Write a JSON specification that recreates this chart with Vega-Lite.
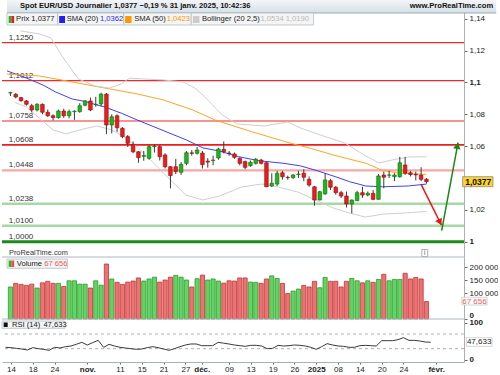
{
"$schema":"https://vega.github.io/schema/vega-lite/v6.json",
"padding":0,"spacing":0,"bounds":"flush",
"config":{"view":{"stroke":null},"font":"Liberation Sans",
"axis":{"grid":false,"labelFont":"Liberation Sans","labelFontSize":8,"labelColor":"#222","domainColor":"#a7b1ba","tickColor":"#666","tickSize":3,"labelPadding":2,"labelOverlap":false,"labelBound":false},
"axisX":{"domain":false,"ticks":false,"labels":false},
"axisY":{"domain":false,"ticks":false,"labels":false},
"text":{"font":"Liberation Sans","fontSize":7.5,"color":"#222"}},
"resolve":{"scale":{"x":"independent","y":"independent"}},
"datasets":{
"candles":[
{"i":0,"d":"2024-10-11","o":1.0934,"h":1.0942,"l":1.0915,"c":1.0936,"v":124000,"r":33.7},
{"i":1,"d":"2024-10-14","o":1.0926,"h":1.0934,"l":1.0900,"c":1.0909,"v":138000,"r":32.8},
{"i":2,"d":"2024-10-15","o":1.0905,"h":1.0910,"l":1.0880,"c":1.0885,"v":134000,"r":30.9},
{"i":3,"d":"2024-10-16","o":1.0884,"h":1.0890,"l":1.0855,"c":1.0863,"v":130000,"r":29.1},
{"i":4,"d":"2024-10-17","o":1.0854,"h":1.0866,"l":1.0812,"c":1.0827,"v":135000,"r":26.4},
{"i":5,"d":"2024-10-18","o":1.0827,"h":1.0870,"l":1.0818,"c":1.0863,"v":120000,"r":32.8},
{"i":6,"d":"2024-10-21","o":1.0863,"h":1.0868,"l":1.0800,"c":1.0813,"v":140000,"r":30.0},
{"i":7,"d":"2024-10-22","o":1.0813,"h":1.0830,"l":1.0784,"c":1.0791,"v":146000,"r":28.2},
{"i":8,"d":"2024-10-23","o":1.0791,"h":1.0800,"l":1.0762,"c":1.0779,"v":138000,"r":25.5},
{"i":9,"d":"2024-10-24","o":1.0779,"h":1.0830,"l":1.0773,"c":1.0821,"v":138000,"r":33.7},
{"i":10,"d":"2024-10-25","o":1.0821,"h":1.0835,"l":1.0778,"c":1.0791,"v":126000,"r":31.9},
{"i":11,"d":"2024-10-28","o":1.0791,"h":1.0830,"l":1.0775,"c":1.0817,"v":148000,"r":35.5},
{"i":12,"d":"2024-10-29","o":1.0817,"h":1.0825,"l":1.0765,"c":1.0820,"v":148000,"r":37.3},
{"i":13,"d":"2024-10-30","o":1.0817,"h":1.0870,"l":1.0810,"c":1.0854,"v":135000,"r":41.9},
{"i":14,"d":"2024-10-31","o":1.0857,"h":1.0890,"l":1.0850,"c":1.0884,"v":135000,"r":47.3},
{"i":15,"d":"2024-11-01","o":1.0884,"h":1.0905,"l":1.0820,"c":1.0827,"v":120000,"r":40.0},
{"i":16,"d":"2024-11-04","o":1.0860,"h":1.0910,"l":1.0848,"c":1.0863,"v":148000,"r":46.4},
{"i":17,"d":"2024-11-05","o":1.0865,"h":1.0936,"l":1.0850,"c":1.0927,"v":131000,"r":52.7},
{"i":18,"d":"2024-11-06","o":1.0927,"h":1.0935,"l":1.0676,"c":1.0733,"v":213000,"r":33.7},
{"i":19,"d":"2024-11-07","o":1.0733,"h":1.0800,"l":1.0680,"c":1.0785,"v":155000,"r":41.9},
{"i":20,"d":"2024-11-08","o":1.0791,"h":1.0800,"l":1.0690,"c":1.0716,"v":142000,"r":37.3},
{"i":21,"d":"2024-11-11","o":1.0712,"h":1.0720,"l":1.0650,"c":1.0660,"v":134000,"r":33.7},
{"i":22,"d":"2024-11-12","o":1.0660,"h":1.0670,"l":1.0595,"c":1.0618,"v":143000,"r":31.9},
{"i":23,"d":"2024-11-13","o":1.0612,"h":1.0630,"l":1.0555,"c":1.0565,"v":147000,"r":30.0},
{"i":24,"d":"2024-11-14","o":1.0565,"h":1.0570,"l":1.0496,"c":1.0528,"v":159000,"r":28.2},
{"i":25,"d":"2024-11-15","o":1.0536,"h":1.0570,"l":1.0508,"c":1.0541,"v":147000,"r":29.1},
{"i":26,"d":"2024-11-18","o":1.0524,"h":1.0607,"l":1.0515,"c":1.0597,"v":155000,"r":32.8},
{"i":27,"d":"2024-11-19","o":1.0597,"h":1.0610,"l":1.0560,"c":1.0600,"v":162000,"r":35.5},
{"i":28,"d":"2024-11-20","o":1.0597,"h":1.0608,"l":1.0510,"c":1.0534,"v":143000,"r":32.8},
{"i":29,"d":"2024-11-21","o":1.0545,"h":1.0555,"l":1.0460,"c":1.0471,"v":151000,"r":29.1},
{"i":30,"d":"2024-11-22","o":1.0471,"h":1.0475,"l":1.0335,"c":1.0415,"v":162000,"r":25.5},
{"i":31,"d":"2024-11-25","o":1.0471,"h":1.0520,"l":1.0425,"c":1.0440,"v":169000,"r":30.0},
{"i":32,"d":"2024-11-26","o":1.0436,"h":1.0500,"l":1.0420,"c":1.0486,"v":162000,"r":35.5},
{"i":33,"d":"2024-11-27","o":1.0492,"h":1.0570,"l":1.0480,"c":1.0559,"v":151000,"r":40.0},
{"i":34,"d":"2024-11-28","o":1.0558,"h":1.0575,"l":1.0540,"c":1.0555,"v":124000,"r":42.8},
{"i":35,"d":"2024-11-29","o":1.0555,"h":1.0595,"l":1.0548,"c":1.0576,"v":156000,"r":42.8},
{"i":36,"d":"2024-12-02","o":1.0557,"h":1.0570,"l":1.0460,"c":1.0484,"v":170000,"r":38.2},
{"i":37,"d":"2024-12-03","o":1.0506,"h":1.0525,"l":1.0465,"c":1.0500,"v":151000,"r":38.2},
{"i":38,"d":"2024-12-04","o":1.0510,"h":1.0540,"l":1.0480,"c":1.0513,"v":155000,"r":38.2},
{"i":39,"d":"2024-12-05","o":1.0526,"h":1.0590,"l":1.0515,"c":1.0582,"v":147000,"r":47.3},
{"i":40,"d":"2024-12-06","o":1.0580,"h":1.0630,"l":1.0555,"c":1.0565,"v":139000,"r":45.0},
{"i":41,"d":"2024-12-09","o":1.0557,"h":1.0570,"l":1.0540,"c":1.0554,"v":148000,"r":42.8},
{"i":42,"d":"2024-12-10","o":1.0551,"h":1.0560,"l":1.0520,"c":1.0530,"v":147000,"r":40.0},
{"i":43,"d":"2024-12-11","o":1.0524,"h":1.0530,"l":1.0480,"c":1.0492,"v":159000,"r":38.2},
{"i":44,"d":"2024-12-12","o":1.0503,"h":1.0510,"l":1.0455,"c":1.0467,"v":159000,"r":36.4},
{"i":45,"d":"2024-12-13","o":1.0477,"h":1.0510,"l":1.0470,"c":1.0499,"v":143000,"r":39.1},
{"i":46,"d":"2024-12-16","o":1.0492,"h":1.0525,"l":1.0485,"c":1.0518,"v":142000,"r":39.1},
{"i":47,"d":"2024-12-17","o":1.0513,"h":1.0520,"l":1.0485,"c":1.0492,"v":138000,"r":37.3},
{"i":48,"d":"2024-12-18","o":1.0496,"h":1.0500,"l":1.0343,"c":1.0345,"v":155000,"r":30.0},
{"i":49,"d":"2024-12-19","o":1.0350,"h":1.0430,"l":1.0343,"c":1.0367,"v":167000,"r":30.9},
{"i":50,"d":"2024-12-20","o":1.0362,"h":1.0445,"l":1.0350,"c":1.0430,"v":157000,"r":39.1},
{"i":51,"d":"2024-12-23","o":1.0433,"h":1.0445,"l":1.0390,"c":1.0408,"v":138000,"r":37.3},
{"i":52,"d":"2024-12-24","o":1.0404,"h":1.0415,"l":1.0390,"c":1.0402,"v":99000,"r":38.2},
{"i":53,"d":"2024-12-26","o":1.0402,"h":1.0425,"l":1.0395,"c":1.0419,"v":108000,"r":40.0},
{"i":54,"d":"2024-12-27","o":1.0422,"h":1.0445,"l":1.0400,"c":1.0425,"v":116000,"r":39.1},
{"i":55,"d":"2024-12-30","o":1.0430,"h":1.0455,"l":1.0380,"c":1.0405,"v":130000,"r":37.3},
{"i":56,"d":"2024-12-31","o":1.0392,"h":1.0410,"l":1.0345,"c":1.0356,"v":124000,"r":33.7},
{"i":57,"d":"2025-01-02","o":1.0345,"h":1.0350,"l":1.0226,"c":1.0262,"v":146000,"r":28.2},
{"i":58,"d":"2025-01-03","o":1.0262,"h":1.0320,"l":1.0260,"c":1.0314,"v":121000,"r":35.5},
{"i":59,"d":"2025-01-06","o":1.0300,"h":1.0430,"l":1.0295,"c":1.0388,"v":161000,"r":43.7},
{"i":60,"d":"2025-01-07","o":1.0383,"h":1.0395,"l":1.0325,"c":1.0342,"v":146000,"r":40.0},
{"i":61,"d":"2025-01-08","o":1.0342,"h":1.0350,"l":1.0295,"c":1.0308,"v":146000,"r":37.3},
{"i":62,"d":"2025-01-09","o":1.0308,"h":1.0320,"l":1.0275,"c":1.0287,"v":124000,"r":36.4},
{"i":63,"d":"2025-01-10","o":1.0287,"h":1.0315,"l":1.0215,"c":1.0237,"v":146000,"r":33.7},
{"i":64,"d":"2025-01-13","o":1.0237,"h":1.0265,"l":1.0178,"c":1.0262,"v":157000,"r":33.7},
{"i":65,"d":"2025-01-14","o":1.0258,"h":1.0320,"l":1.0255,"c":1.0308,"v":148000,"r":38.2},
{"i":66,"d":"2025-01-15","o":1.0308,"h":1.0345,"l":1.0275,"c":1.0293,"v":140000,"r":39.1},
{"i":67,"d":"2025-01-16","o":1.0293,"h":1.0315,"l":1.0285,"c":1.0304,"v":148000,"r":38.2},
{"i":68,"d":"2025-01-17","o":1.0304,"h":1.0325,"l":1.0260,"c":1.0266,"v":142000,"r":37.3},
{"i":69,"d":"2025-01-20","o":1.0266,"h":1.0425,"l":1.0265,"c":1.0413,"v":153000,"r":51.8},
{"i":70,"d":"2025-01-21","o":1.0419,"h":1.0440,"l":1.0335,"c":1.0405,"v":173000,"r":51.8},
{"i":71,"d":"2025-01-22","o":1.0418,"h":1.0445,"l":1.0400,"c":1.0419,"v":148000,"r":51.8},
{"i":72,"d":"2025-01-23","o":1.0408,"h":1.0430,"l":1.0380,"c":1.0419,"v":153000,"r":54.6},
{"i":73,"d":"2025-01-24","o":1.0408,"h":1.0533,"l":1.0402,"c":1.0496,"v":153000,"r":60.0},
{"i":74,"d":"2025-01-27","o":1.0482,"h":1.0533,"l":1.0420,"c":1.0430,"v":177000,"r":52.7},
{"i":75,"d":"2025-01-28","o":1.0433,"h":1.0445,"l":1.0410,"c":1.0422,"v":155000,"r":52.7},
{"i":76,"d":"2025-01-29","o":1.0423,"h":1.0440,"l":1.0385,"c":1.0420,"v":161000,"r":50.9},
{"i":77,"d":"2025-01-30","o":1.0419,"h":1.0468,"l":1.0380,"c":1.0392,"v":155000,"r":48.2},
{"i":78,"d":"2025-01-31","o":1.0392,"h":1.0400,"l":1.0365,"c":1.0377,"v":67656,"r":47.633}
],
"lines":[
{"s":"sma20","i":-0.64,"p":1.1073},{"s":"sma20","i":3.0,"p":1.1028},{"s":"sma20","i":6.1,"p":1.0984},{"s":"sma20","i":8.5,"p":1.0940},{"s":"sma20","i":11.6,"p":1.0896},{"s":"sma20","i":14.0,"p":1.0881},{"s":"sma20","i":15.9,"p":1.0862},{"s":"sma20","i":17.7,"p":1.0846},{"s":"sma20","i":20.8,"p":1.0807},{"s":"sma20","i":23.8,"p":1.0764},{"s":"sma20","i":26.9,"p":1.0722},{"s":"sma20","i":29.9,"p":1.0681},{"s":"sma20","i":33.0,"p":1.0639},{"s":"sma20","i":36.1,"p":1.0589},{"s":"sma20","i":39.1,"p":1.0570},{"s":"sma20","i":42.8,"p":1.0534},{"s":"sma20","i":46.5,"p":1.0509},{"s":"sma20","i":51.3,"p":1.0492},{"s":"sma20","i":54.4,"p":1.0476},{"s":"sma20","i":57.5,"p":1.0446},{"s":"sma20","i":60.5,"p":1.0413},{"s":"sma20","i":63.6,"p":1.0377},{"s":"sma20","i":66.6,"p":1.0350},{"s":"sma20","i":69.7,"p":1.0345},{"s":"sma20","i":74.6,"p":1.0350},{"s":"sma20","i":78,"p":1.0362},
{"s":"sma50","i":-0.64,"p":1.1053},{"s":"sma50","i":5.4,"p":1.1041},{"s":"sma50","i":11.65,"p":1.1003},{"s":"sma50","i":17.7,"p":1.0965},{"s":"sma50","i":23.8,"p":1.0928},{"s":"sma50","i":28.7,"p":1.0890},{"s":"sma50","i":34.2,"p":1.0827},{"s":"sma50","i":38.4,"p":1.0764},{"s":"sma50","i":45.2,"p":1.0691},{"s":"sma50","i":52.6,"p":1.0618},{"s":"sma50","i":56.2,"p":1.0587},{"s":"sma50","i":60.5,"p":1.0545},{"s":"sma50","i":66.7,"p":1.0492},{"s":"sma50","i":69.6,"p":1.0450},{"s":"sma50","i":72.8,"p":1.0430},{"s":"sma50","i":78,"p":1.0423},
{"s":"bbUp","i":1.9,"p":1.1324},{"s":"bbUp","i":5.4,"p":1.1305},{"s":"bbUp","i":7.6,"p":1.1280},{"s":"bbUp","i":9.8,"p":1.1160},{"s":"bbUp","i":12.75,"p":1.1022},{"s":"bbUp","i":15.9,"p":1.0978},{"s":"bbUp","i":18.6,"p":1.0965},{"s":"bbUp","i":20.8,"p":1.0991},{"s":"bbUp","i":22.3,"p":1.1028},{"s":"bbUp","i":25.0,"p":1.1022},{"s":"bbUp","i":28.7,"p":1.1016},{"s":"bbUp","i":32.4,"p":1.1003},{"s":"bbUp","i":34.6,"p":1.0965},{"s":"bbUp","i":36.1,"p":1.0921},{"s":"bbUp","i":37.9,"p":1.0859},{"s":"bbUp","i":39.7,"p":1.0796},{"s":"bbUp","i":42.5,"p":1.0739},{"s":"bbUp","i":47.6,"p":1.0727},{"s":"bbUp","i":52.0,"p":1.0752},{"s":"bbUp","i":54.4,"p":1.0714},{"s":"bbUp","i":58.1,"p":1.0670},{"s":"bbUp","i":62.7,"p":1.0620},{"s":"bbUp","i":66.3,"p":1.0545},{"s":"bbUp","i":69.1,"p":1.0494},{"s":"bbUp","i":71.5,"p":1.0513},{"s":"bbUp","i":74.6,"p":1.0532},{"s":"bbUp","i":78,"p":1.0534},
{"s":"bbLo","i":0.8,"p":1.0875},{"s":"bbLo","i":3.0,"p":1.0846},{"s":"bbLo","i":5.4,"p":1.0777},{"s":"bbLo","i":8.0,"p":1.0702},{"s":"bbLo","i":10.4,"p":1.0677},{"s":"bbLo","i":13.7,"p":1.0708},{"s":"bbLo","i":16.2,"p":1.0727},{"s":"bbLo","i":19.0,"p":1.0702},{"s":"bbLo","i":21.4,"p":1.0658},{"s":"bbLo","i":23.8,"p":1.0595},{"s":"bbLo","i":26.3,"p":1.0513},{"s":"bbLo","i":30.0,"p":1.0388},{"s":"bbLo","i":32.9,"p":1.0293},{"s":"bbLo","i":36.1,"p":1.0262},{"s":"bbLo","i":39.2,"p":1.0287},{"s":"bbLo","i":43.4,"p":1.0344},{"s":"bbLo","i":47.1,"p":1.0362},{"s":"bbLo","i":50.2,"p":1.0344},{"s":"bbLo","i":53.9,"p":1.0312},{"s":"bbLo","i":57.2,"p":1.0262},{"s":"bbLo","i":60.5,"p":1.0212},{"s":"bbLo","i":63.6,"p":1.0180},{"s":"bbLo","i":66.5,"p":1.0155},{"s":"bbLo","i":70.0,"p":1.0174},{"s":"bbLo","i":73.7,"p":1.0180},{"s":"bbLo","i":78,"p":1.0190}
],
"levels":[
{"p":1.1250,"lab":"1,1250","t":"R"},{"p":1.1012,"lab":"1,1012","t":"R"},{"p":1.0758,"lab":"1,0758","t":"R"},{"p":1.0608,"lab":"1,0608","t":"R3"},{"p":1.0448,"lab":"1,0448","t":"Rl"},{"p":1.0238,"lab":"1,0238","t":"Sl"},{"p":1.0100,"lab":"1,0100","t":"Sl"},{"p":1.0000,"lab":"1,0000","t":"S"}
],
"arrows":[
{"a":"down","i":77.0,"p":1.03606},{"a":"down","i":80.8,"p":1.0105},{"a":"up","i":80.85,"p":1.00692},{"a":"up","i":83.92,"p":1.06218}
],
"heads":[{"a":"down","i":80.54,"p":1.0122},{"a":"up","i":83.8,"p":1.0603}],
"rsiLevels":[{"r":70},{"r":30}]
},
"vconcat":[
{"width":462,"height":257,
"layer":[
{"data":{"name":"levels"},"mark":{"type":"rule"},
"encoding":{"y":{"field":"p","type":"quantitative","scale":{"domain":[0.9904,1.1518],"nice":false,"zero":false},"title":null},
"stroke":{"field":"t","type":"nominal","scale":{"domain":["R","R3","Rl","Sl","S"],"range":["#ec2a2a","#ee1c1c","#f6a8a8","#a6d9a6","#1b8a1b"]},"legend":null},
"strokeWidth":{"field":"t","type":"ordinal","scale":{"domain":["R","R3","Rl","Sl","S"],"range":[1.2,3,2,2,2.2]},"legend":null}}},
{"data":{"name":"levels"},"mark":{"type":"text","align":"left","baseline":"bottom","dy":-1,"fontSize":8,"color":"#333"},
"encoding":{"x":{"datum":-0.3,"type":"quantitative","scale":{"domain":[-0.64,84.1],"nice":false,"zero":false}},
"y":{"field":"p","type":"quantitative","scale":{"domain":[0.9904,1.1518],"nice":false,"zero":false},"title":null},"text":{"field":"lab"}}},
{"data":{"name":"lines"},"mark":{"type":"line","strokeWidth":1},
"encoding":{"x":{"field":"i","type":"quantitative","scale":{"domain":[-0.64,84.1],"nice":false,"zero":false},"title":null},
"y":{"field":"p","type":"quantitative","scale":{"domain":[0.9904,1.1518],"nice":false,"zero":false},"title":null},
"color":{"field":"s","type":"nominal","scale":{"domain":["bbUp","bbLo","sma50","sma20"],"range":["#cfcfcf","#cfcfcf","#ffa424","#3f3ff5"]},"legend":null}}},
{"data":{"name":"candles"},"mark":{"type":"rule","color":"#3a3a3a","strokeWidth":1},
"encoding":{"x":{"field":"i","type":"quantitative","scale":{"domain":[-0.64,84.1],"nice":false,"zero":false},"title":null},
"y":{"field":"l","type":"quantitative","scale":{"domain":[0.9904,1.1518],"nice":false,"zero":false},"title":null},"y2":{"field":"h"}}},
{"data":{"name":"candles"},"mark":{"type":"bar","width":3.6,"strokeWidth":0.6},
"encoding":{"x":{"field":"i","type":"quantitative","scale":{"domain":[-0.64,84.1],"nice":false,"zero":false},"title":null},
"y":{"field":"o","type":"quantitative","scale":{"domain":[0.9904,1.1518],"nice":false,"zero":false},"title":null,
"axis":{"orient":"right","domain":true,"ticks":true,"labels":true,"tickCount":20,"values":[1,1.02,1.06,1.08,1.1,1.12,1.14],"labelExpr":"replace(format(datum.value,'.2~f'),'.',',')","labelFontWeight":{"condition":{"test":"datum.value==1||datum.value==1.1","value":"bold"},"value":"normal"},"labelOverlap":false,"labelFlush":false,"title":null,"grid":false}},
"y2":{"field":"c"},
"fill":{"condition":{"test":"datum.c>=datum.o","value":"#1fb51f"},"value":"#ee1d1d"},
"stroke":{"condition":{"test":"datum.c>=datum.o","value":"#0d6e0d"},"value":"#8a0b0b"}}},
{"data":{"name":"arrows"},"mark":{"type":"line","strokeWidth":1.5},
"encoding":{"x":{"field":"i","type":"quantitative","scale":{"domain":[-0.64,84.1],"nice":false,"zero":false},"title":null},
"y":{"field":"p","type":"quantitative","scale":{"domain":[0.9904,1.1518],"nice":false,"zero":false},"title":null},
"detail":{"field":"a"},"color":{"condition":{"test":"datum.a=='down'","value":"#ee1515"},"value":"#168a16"}}},
{"data":{"name":"heads"},"mark":{"type":"point","shape":"triangle-up","filled":true,"size":55,"opacity":1},
"encoding":{"x":{"field":"i","type":"quantitative","scale":{"domain":[-0.64,84.1],"nice":false,"zero":false},"title":null},
"y":{"field":"p","type":"quantitative","scale":{"domain":[0.9904,1.1518],"nice":false,"zero":false},"title":null},
"angle":{"condition":{"test":"datum.a=='down'","value":153},"value":11},
"color":{"condition":{"test":"datum.a=='down'","value":"#ee1515"},"value":"#168a16"}}},
{"data":{"values":[{}]},"mark":{"type":"rect","fill":{"x1":0,"y1":0,"x2":0,"y2":1,"gradient":"linear","stops":[{"offset":0,"color":"#f3f6f8"},{"offset":1,"color":"#d5dfe7"}]}},
"encoding":{"x":{"datum":-0.64,"type":"quantitative","scale":{"domain":[-0.64,84.1],"nice":false,"zero":false}},"x2":{"datum":91.07},
"y":{"datum":1.1518,"type":"quantitative","scale":{"domain":[0.9904,1.1518],"nice":false,"zero":false}},"y2":{"datum":1.14364}}},
{"data":{"values":[{}]},"mark":{"type":"rule","color":"#9aabb8","strokeWidth":1},
"encoding":{"x":{"datum":-0.64,"type":"quantitative","scale":{"domain":[-0.64,84.1],"nice":false,"zero":false}},"x2":{"datum":91.07},
"y":{"datum":1.14364,"type":"quantitative","scale":{"domain":[0.9904,1.1518],"nice":false,"zero":false}}}},
{"data":{"values":[{}]},"mark":{"type":"text","align":"left","baseline":"middle","fontWeight":"bold","fontSize":7.6,"color":"#111"},
"encoding":{"x":{"datum":1.8,"type":"quantitative","scale":{"domain":[-0.64,84.1],"nice":false,"zero":false}},
"y":{"datum":1.14772,"type":"quantitative","scale":{"domain":[0.9904,1.1518],"nice":false,"zero":false}},
"text":{"value":"Spot EUR/USD Journalier 1,0377 −0,19 % 31 janv. 2025, 10:42:36"}}},
{"data":{"values":[{}]},"mark":{"type":"text","align":"right","baseline":"middle","fontWeight":"bold","fontSize":7.6,"color":"#111"},
"encoding":{"x":{"datum":90.52,"type":"quantitative","scale":{"domain":[-0.64,84.1],"nice":false,"zero":false}},
"y":{"datum":1.14772,"type":"quantitative","scale":{"domain":[0.9904,1.1518],"nice":false,"zero":false}},
"text":{"value":"www.ProRealTime.com"}}},
{"data":{"values":[{}]},"mark":{"type":"rect","fill":"#f4f4f4","stroke":"#b4bfc7","strokeWidth":0.8},
"encoding":{"x":{"datum":-0.64,"type":"quantitative","scale":{"domain":[-0.64,84.1],"nice":false,"zero":false}},"x2":{"datum":8.84},
"y":{"datum":1.14364,"type":"quantitative","scale":{"domain":[0.9904,1.1518],"nice":false,"zero":false}},"y2":{"datum":1.1361}}},
{"data":{"values":[{}]},"mark":{"type":"rect","fill":"#f4f4f4","stroke":"#b4bfc7","strokeWidth":0.8},
"encoding":{"x":{"datum":8.84,"type":"quantitative","scale":{"domain":[-0.64,84.1],"nice":false,"zero":false}},"x2":{"datum":21.24},
"y":{"datum":1.14364,"type":"quantitative","scale":{"domain":[0.9904,1.1518],"nice":false,"zero":false}},"y2":{"datum":1.1361}}},
{"data":{"values":[{}]},"mark":{"type":"rect","fill":"#f4f4f4","stroke":"#b4bfc7","strokeWidth":0.8},
"encoding":{"x":{"datum":21.24,"type":"quantitative","scale":{"domain":[-0.64,84.1],"nice":false,"zero":false}},"x2":{"datum":33.9},
"y":{"datum":1.14364,"type":"quantitative","scale":{"domain":[0.9904,1.1518],"nice":false,"zero":false}},"y2":{"datum":1.1361}}},
{"data":{"values":[{}]},"mark":{"type":"rect","fill":"#f4f4f4","stroke":"#b4bfc7","strokeWidth":0.8},
"encoding":{"x":{"datum":33.9,"type":"quantitative","scale":{"domain":[-0.64,84.1],"nice":false,"zero":false}},"x2":{"datum":56.83},
"y":{"datum":1.14364,"type":"quantitative","scale":{"domain":[0.9904,1.1518],"nice":false,"zero":false}},"y2":{"datum":1.1361}}},
{"data":{"values":[{}]},"mark":{"type":"rect","fill":"#22b822"},
"encoding":{"x":{"datum":-0.33,"type":"quantitative","scale":{"domain":[-0.64,84.1],"nice":false,"zero":false}},"x2":{"datum":0.185},
"y":{"datum":1.14175,"type":"quantitative","scale":{"domain":[0.9904,1.1518],"nice":false,"zero":false}},"y2":{"datum":1.13736}}},
{"data":{"values":[{}]},"mark":{"type":"rect","fill":"#e52020"},
"encoding":{"x":{"datum":0.185,"type":"quantitative","scale":{"domain":[-0.64,84.1],"nice":false,"zero":false}},"x2":{"datum":0.7},
"y":{"datum":1.14175,"type":"quantitative","scale":{"domain":[0.9904,1.1518],"nice":false,"zero":false}},"y2":{"datum":1.13736}}},
{"data":{"values":[{}]},"mark":{"type":"rect","fill":"#2020f0"},
"encoding":{"x":{"datum":9.14,"type":"quantitative","scale":{"domain":[-0.64,84.1],"nice":false,"zero":false}},"x2":{"datum":10.24},
"y":{"datum":1.14175,"type":"quantitative","scale":{"domain":[0.9904,1.1518],"nice":false,"zero":false}},"y2":{"datum":1.13736}}},
{"data":{"values":[{}]},"mark":{"type":"rect","fill":"#ff9900"},
"encoding":{"x":{"datum":21.5,"type":"quantitative","scale":{"domain":[-0.64,84.1],"nice":false,"zero":false}},"x2":{"datum":22.71},
"y":{"datum":1.14175,"type":"quantitative","scale":{"domain":[0.9904,1.1518],"nice":false,"zero":false}},"y2":{"datum":1.13736}}},
{"data":{"values":[{}]},"mark":{"type":"rect","fill":"#cccccc"},
"encoding":{"x":{"datum":34.21,"type":"quantitative","scale":{"domain":[-0.64,84.1],"nice":false,"zero":false}},"x2":{"datum":35.44},
"y":{"datum":1.14175,"type":"quantitative","scale":{"domain":[0.9904,1.1518],"nice":false,"zero":false}},"y2":{"datum":1.13736}}},
{"data":{"values":[{}]},"mark":{"type":"text","align":"left","baseline":"middle","fontSize":7.6,"color":"#222"},
"encoding":{"x":{"datum":1.07,"type":"quantitative","scale":{"domain":[-0.64,84.1],"nice":false,"zero":false}},
"y":{"datum":1.13987,"type":"quantitative","scale":{"domain":[0.9904,1.1518],"nice":false,"zero":false}},"text":{"value":"Prix 1,0377"}}},
{"data":{"values":[{}]},"mark":{"type":"text","align":"left","baseline":"middle","fontSize":7.6,"color":"#222"},
"encoding":{"x":{"datum":10.55,"type":"quantitative","scale":{"domain":[-0.64,84.1],"nice":false,"zero":false}},
"y":{"datum":1.13987,"type":"quantitative","scale":{"domain":[0.9904,1.1518],"nice":false,"zero":false}},"text":{"value":"SMA (20)"}}},
{"data":{"values":[{}]},"mark":{"type":"text","align":"left","baseline":"middle","fontSize":7.6,"color":"#2a2aff"},
"encoding":{"x":{"datum":16.78,"type":"quantitative","scale":{"domain":[-0.64,84.1],"nice":false,"zero":false}},
"y":{"datum":1.13987,"type":"quantitative","scale":{"domain":[0.9904,1.1518],"nice":false,"zero":false}},"text":{"value":"1,0362"}}},
{"data":{"values":[{}]},"mark":{"type":"text","align":"left","baseline":"middle","fontSize":7.6,"color":"#222"},
"encoding":{"x":{"datum":23.2,"type":"quantitative","scale":{"domain":[-0.64,84.1],"nice":false,"zero":false}},
"y":{"datum":1.13987,"type":"quantitative","scale":{"domain":[0.9904,1.1518],"nice":false,"zero":false}},"text":{"value":"SMA (50)"}}},
{"data":{"values":[{}]},"mark":{"type":"text","align":"left","baseline":"middle","fontSize":7.6,"color":"#ff9400"},
"encoding":{"x":{"datum":29.31,"type":"quantitative","scale":{"domain":[-0.64,84.1],"nice":false,"zero":false}},
"y":{"datum":1.13987,"type":"quantitative","scale":{"domain":[0.9904,1.1518],"nice":false,"zero":false}},"text":{"value":"1,0423"}}},
{"data":{"values":[{}]},"mark":{"type":"text","align":"left","baseline":"middle","fontSize":7.6,"color":"#222"},
"encoding":{"x":{"datum":35.92,"type":"quantitative","scale":{"domain":[-0.64,84.1],"nice":false,"zero":false}},
"y":{"datum":1.13987,"type":"quantitative","scale":{"domain":[0.9904,1.1518],"nice":false,"zero":false}},"text":{"value":"Bollinger (20 2,5)"}}},
{"data":{"values":[{}]},"mark":{"type":"text","align":"left","baseline":"middle","fontSize":7.6,"color":"#b8b8b8"},
"encoding":{"x":{"datum":46.87,"type":"quantitative","scale":{"domain":[-0.64,84.1],"nice":false,"zero":false}},
"y":{"datum":1.13987,"type":"quantitative","scale":{"domain":[0.9904,1.1518],"nice":false,"zero":false}},"text":{"value":"1,0534 1,0190"}}},
{"data":{"values":[{}]},"mark":{"type":"text","align":"left","baseline":"middle","fontSize":7.4,"color":"#333"},
"encoding":{"x":{"datum":-0.27,"type":"quantitative","scale":{"domain":[-0.64,84.1],"nice":false,"zero":false}},
"y":{"datum":0.99272,"type":"quantitative","scale":{"domain":[0.9904,1.1518],"nice":false,"zero":false}},"text":{"value":"ProRealTime.com"}}},
{"data":{"values":[{}]},"mark":{"type":"rect","fill":"#ffffff","stroke":"#9a9a9a","strokeWidth":0.8},
"encoding":{"x":{"datum":77.13,"type":"quantitative","scale":{"domain":[-0.64,84.1],"nice":false,"zero":false}},"x2":{"datum":78.23},
"y":{"datum":0.99511,"type":"quantitative","scale":{"domain":[0.9904,1.1518],"nice":false,"zero":false}},"y2":{"datum":0.99071}}},
{"data":{"values":[{}]},"mark":{"type":"text","align":"center","baseline":"middle","fontSize":6.5,"color":"#555"},
"encoding":{"x":{"datum":77.68,"type":"quantitative","scale":{"domain":[-0.64,84.1],"nice":false,"zero":false}},
"y":{"datum":0.9929,"type":"quantitative","scale":{"domain":[0.9904,1.1518],"nice":false,"zero":false}},"text":{"value":"i"}}},
{"data":{"values":[{}]},"mark":{"type":"rect","fill":"#ffd42a","stroke":"#8c8c8c","strokeWidth":0.8},
"encoding":{"x":{"datum":84.78,"type":"quantitative","scale":{"domain":[-0.64,84.1],"nice":false,"zero":false}},"x2":{"datum":90.47},
"y":{"datum":1.04083,"type":"quantitative","scale":{"domain":[0.9904,1.1518],"nice":false,"zero":false}},"y2":{"datum":1.03455}}},
{"data":{"values":[{}]},"mark":{"type":"text","align":"center","baseline":"middle","fontSize":8.5,"fontWeight":"bold","color":"#111"},
"encoding":{"x":{"datum":87.7,"type":"quantitative","scale":{"domain":[-0.64,84.1],"nice":false,"zero":false}},
"y":{"datum":1.0377,"type":"quantitative","scale":{"domain":[0.9904,1.1518],"nice":false,"zero":false}},"text":{"value":"1,0377"}}}
]},
{"width":462,"height":62,
"layer":[
{"data":{"values":[{}]},"mark":{"type":"rule","color":"#aeb8c0","strokeWidth":1},
"encoding":{"y":{"datum":240000,"type":"quantitative","scale":{"domain":[0,240000],"nice":false}}}},
{"data":{"name":"candles"},"transform":[{"window":[{"op":"lag","field":"c","as":"pc"}],"sort":[{"field":"i","order":"ascending"}]}],
"mark":{"type":"bar","width":4.2,"strokeWidth":0.7},
"encoding":{"x":{"field":"i","type":"quantitative","scale":{"domain":[-0.64,84.1],"nice":false,"zero":false},"title":null},
"y":{"field":"v","type":"quantitative","scale":{"domain":[0,240000],"nice":false},"title":null,
"axis":{"orient":"right","domain":true,"ticks":true,"labels":true,"tickCount":20,"values":[0,100000,150000,200000],"labelExpr":"datum.value==0?'0':format(datum.value/1000,'d')+' 000'","labelFontWeight":{"condition":{"test":"datum.value==0","value":"bold"},"value":"normal"},"labelFlush":true,"labelOverlap":false,"title":null,"grid":false}},
"fill":{"condition":{"test":"datum.pc==null||datum.c>=datum.pc","value":"#62d462"},"value":"#ee7272"},
"stroke":{"condition":{"test":"datum.pc==null||datum.c>=datum.pc","value":"#209020"},"value":"#b32a2a"}}},
{"data":{"values":[{}]},"mark":{"type":"rect","fill":"#f4f4f4","stroke":"#b4bfc7","strokeWidth":0.8},
"encoding":{"x":{"datum":-0.64,"type":"quantitative","scale":{"domain":[-0.64,84.1],"nice":false,"zero":false}},"x2":{"datum":10.68},
"y":{"datum":232258,"type":"quantitative","scale":{"domain":[0,240000],"nice":false}},"y2":{"datum":196258}}},
{"data":{"values":[{}]},"mark":{"type":"rect","fill":"#22b822"},
"encoding":{"x":{"datum":-0.33,"type":"quantitative","scale":{"domain":[-0.64,84.1],"nice":false,"zero":false}},"x2":{"datum":0.185},
"y":{"datum":226452,"type":"quantitative","scale":{"domain":[0,240000],"nice":false}},"y2":{"datum":201290}}},
{"data":{"values":[{}]},"mark":{"type":"rect","fill":"#e85050"},
"encoding":{"x":{"datum":0.185,"type":"quantitative","scale":{"domain":[-0.64,84.1],"nice":false,"zero":false}},"x2":{"datum":0.7},
"y":{"datum":226452,"type":"quantitative","scale":{"domain":[0,240000],"nice":false}},"y2":{"datum":201290}}},
{"data":{"values":[{}]},"mark":{"type":"text","align":"left","baseline":"middle","fontSize":7.6,"color":"#222"},
"encoding":{"x":{"datum":1.19,"type":"quantitative","scale":{"domain":[-0.64,84.1],"nice":false,"zero":false}},
"y":{"datum":214065,"type":"quantitative","scale":{"domain":[0,240000],"nice":false}},"text":{"value":"Volume"}}},
{"data":{"values":[{}]},"mark":{"type":"text","align":"left","baseline":"middle","fontSize":7.6,"color":"#e05a5a"},
"encoding":{"x":{"datum":6.35,"type":"quantitative","scale":{"domain":[-0.64,84.1],"nice":false,"zero":false}},
"y":{"datum":214065,"type":"quantitative","scale":{"domain":[0,240000],"nice":false}},"text":{"value":"67 656"}}},
{"data":{"values":[{}]},"mark":{"type":"rect","fill":"#ffffff","stroke":"#c9c9c9","strokeWidth":0.8},
"encoding":{"x":{"datum":84.65,"type":"quantitative","scale":{"domain":[-0.64,84.1],"nice":false,"zero":false}},"x2":{"datum":89.36},
"y":{"datum":84000,"type":"quantitative","scale":{"domain":[0,240000],"nice":false}},"y2":{"datum":54194}}},
{"data":{"values":[{}]},"mark":{"type":"text","align":"center","baseline":"middle","fontSize":8,"color":"#e06060"},
"encoding":{"x":{"datum":87.0,"type":"quantitative","scale":{"domain":[-0.64,84.1],"nice":false,"zero":false}},
"y":{"datum":67656,"type":"quantitative","scale":{"domain":[0,240000],"nice":false}},"text":{"value":"67 656"}}}
]},
{"width":462,"height":43,
"layer":[
{"data":{"values":[{}]},"mark":{"type":"rule","color":"#aeb8c0","strokeWidth":1},
"encoding":{"y":{"datum":110.9,"type":"quantitative","scale":{"domain":[-6.3,110.9],"nice":false,"zero":false}}}},
{"data":{"name":"rsiLevels"},"mark":{"type":"rule","color":"#9a9a9a","strokeWidth":0.8,"strokeDash":[3,3]},
"encoding":{"y":{"field":"r","type":"quantitative","scale":{"domain":[-6.3,110.9],"nice":false,"zero":false},"title":null}}},
{"data":{"name":"candles"},"mark":{"type":"line","color":"#3a3a3a","strokeWidth":1},
"encoding":{"x":{"field":"i","type":"quantitative","scale":{"domain":[-0.64,84.1],"nice":false,"zero":false},"title":null,
"axis":{"orient":"bottom","domain":true,"ticks":true,"tickSize":2,"labels":true,"labelPadding":1,"tickCount":40,"values":[1,5,9,15,21,25,29,33,36,41,45,49,53,57,61,65,69,73,79],
"labelExpr":"['14','18','24','nov.','11','15','21','27','déc.','09','13','19','26','2025','08','14','20','24','févr.'][indexof([1,5,9,15,21,25,29,33,36,41,45,49,53,57,61,65,69,73,79],datum.value)]",
"labelFontWeight":{"condition":{"test":"indexof([15,36,57,79],datum.value)>=0","value":"bold"},"value":"normal"},"labelOverlap":false,"labelFlush":false,"title":null,"grid":false}},
"y":{"field":"r","type":"quantitative","scale":{"domain":[-6.3,110.9],"nice":false,"zero":false},"title":null,
"axis":{"orient":"right","domain":true,"ticks":true,"labels":true,"tickCount":10,"values":[0,100],"labelFontWeight":"bold","labelOverlap":false,"title":null,"grid":false}}}},
{"data":{"values":[{}]},"mark":{"type":"rect","fill":"#f4f4f4","stroke":"#b4bfc7","strokeWidth":0.8},
"encoding":{"x":{"datum":-0.64,"type":"quantitative","scale":{"domain":[-0.64,84.1],"nice":false,"zero":false}},"x2":{"datum":10.9},
"y":{"datum":105.45,"type":"quantitative","scale":{"domain":[-6.3,110.9],"nice":false,"zero":false}},"y2":{"datum":85.55}}},
{"data":{"values":[{}]},"mark":{"type":"rect","fill":"#111111"},
"encoding":{"x":{"datum":-0.33,"type":"quantitative","scale":{"domain":[-0.64,84.1],"nice":false,"zero":false}},"x2":{"datum":0.405},
"y":{"datum":101.36,"type":"quantitative","scale":{"domain":[-6.3,110.9],"nice":false,"zero":false}},"y2":{"datum":89.1}}},
{"data":{"values":[{}]},"mark":{"type":"text","align":"left","baseline":"middle","fontSize":7.6,"color":"#222"},
"encoding":{"x":{"datum":1.19,"type":"quantitative","scale":{"domain":[-0.64,84.1],"nice":false,"zero":false}},
"y":{"datum":95.36,"type":"quantitative","scale":{"domain":[-6.3,110.9],"nice":false,"zero":false}},"text":{"value":"RSI (14)"}}},
{"data":{"values":[{}]},"mark":{"type":"text","align":"left","baseline":"middle","fontSize":7.6,"color":"#222"},
"encoding":{"x":{"datum":6.95,"type":"quantitative","scale":{"domain":[-0.64,84.1],"nice":false,"zero":false}},
"y":{"datum":95.36,"type":"quantitative","scale":{"domain":[-6.3,110.9],"nice":false,"zero":false}},"text":{"value":"47,633"}}},
{"data":{"values":[{}]},"mark":{"type":"rect","fill":"#ffffff","stroke":"#c9c9c9","strokeWidth":0.8},
"encoding":{"x":{"datum":84.52,"type":"quantitative","scale":{"domain":[-0.64,84.1],"nice":false,"zero":false}},"x2":{"datum":89.24},
"y":{"datum":59.93,"type":"quantitative","scale":{"domain":[-6.3,110.9],"nice":false,"zero":false}},"y2":{"datum":36.49}}},
{"data":{"values":[{}]},"mark":{"type":"text","align":"center","baseline":"middle","fontSize":8,"color":"#222"},
"encoding":{"x":{"datum":86.88,"type":"quantitative","scale":{"domain":[-0.64,84.1],"nice":false,"zero":false}},
"y":{"datum":47.633,"type":"quantitative","scale":{"domain":[-6.3,110.9],"nice":false,"zero":false}},"text":{"value":"47,633"}}}
]}
]
}
